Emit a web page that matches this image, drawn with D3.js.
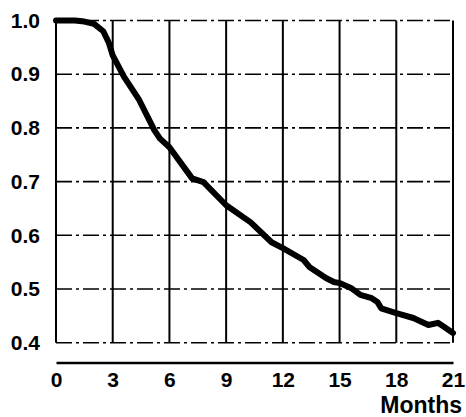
<!DOCTYPE html>
<html>
<head>
<meta charset="utf-8">
<script src="https://cdn.jsdelivr.net/npm/d3@7"></script>
<style>
  html, body { margin: 0; padding: 0; background: #fff; }
  svg { display: block; }
  text { font-family: "Liberation Sans", Arial, sans-serif; font-weight: bold; fill: #000; }
</style>
</head>
<body>
<svg id="chart" width="466" height="417"></svg>
<script>
const months = [0, 1.0, 1.5, 2.0, 2.5, 2.8, 3.0, 3.6, 4.4, 5.2, 5.5, 6.0, 7.2, 7.8, 9.0, 10.3, 11.4, 12.0, 13.1, 13.4, 14.3, 14.7, 15.0, 15.6, 16.1, 16.7, 17.0, 17.2, 18.0, 18.9, 19.7, 20.2, 20.5, 21.0];
const survival = [1.0, 1.0, 0.998, 0.994, 0.98, 0.958, 0.935, 0.895, 0.852, 0.796, 0.78, 0.764, 0.706, 0.699, 0.656, 0.624, 0.587, 0.576, 0.554, 0.541, 0.52, 0.513, 0.511, 0.502, 0.489, 0.483, 0.476, 0.464, 0.455, 0.446, 0.433, 0.437, 0.43, 0.418];
const xTicks = [0, 3, 6, 9, 12, 15, 18, 21];
const yTicks = [0.4, 0.5, 0.6, 0.7, 0.8, 0.9, 1.0];
const xTitle = "Months";

const svg = d3.select("#chart");
const x = d3.scaleLinear().domain([0, 21]).range([56, 453]);
const y = d3.scaleLinear().domain([0.4, 1.0]).range([342.7, 20.5]);

// horizontal grid (dash-dot)
svg.append("g").selectAll("line").data(yTicks).join("line")
  .attr("x1", x(0)).attr("x2", x(21))
  .attr("y1", d => y(d)).attr("y2", d => y(d))
  .attr("stroke", "#000").attr("stroke-width", 1.6)
  .attr("stroke-dasharray", "16,4,3,4");

// vertical grid (solid)
svg.append("g").selectAll("line").data(xTicks).join("line")
  .attr("x1", d => x(d)).attr("x2", d => x(d))
  .attr("y1", y(1.0)).attr("y2", y(0.4))
  .attr("stroke", "#000").attr("stroke-width", 2);

// x axis
const xAxis = svg.append("g").attr("transform", "translate(0,362.5)")
  .call(d3.axisBottom(x).tickValues(xTicks).tickSize(0).tickPadding(10).tickFormat(d3.format("d")));
xAxis.select(".domain").attr("stroke", "#000").attr("stroke-width", 2.5);
xAxis.selectAll("text").style("font-size", "21px").style("font-family", "'Liberation Sans', Arial, sans-serif").style("font-weight", "bold").attr("fill", "#000");

// y axis labels
const yAxis = svg.append("g").attr("transform", "translate(40,0)")
  .call(d3.axisLeft(y).tickValues(yTicks).tickSize(0).tickPadding(0).tickFormat(d3.format(".1f")));
yAxis.select(".domain").remove();
yAxis.selectAll("text").style("font-size", "21px").style("font-family", "'Liberation Sans', Arial, sans-serif").style("font-weight", "bold").attr("fill", "#000");

// x title
svg.append("text").attr("x", 462).attr("y", 413).attr("text-anchor", "end")
  .style("font-size", "23px").text(xTitle);

// survival curve
const line = d3.line().x((d, i) => x(months[i])).y(d => y(d));
svg.append("path").datum(survival)
  .attr("d", line)
  .attr("fill", "none").attr("stroke", "#000").attr("stroke-width", 6)
  .attr("stroke-linejoin", "round").attr("stroke-linecap", "round");
</script>
</body>
</html>
